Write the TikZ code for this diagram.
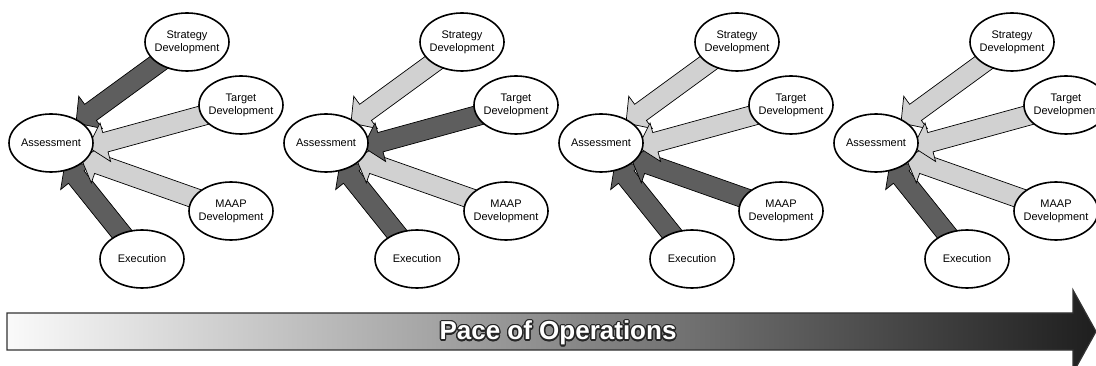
\documentclass[tikz,border=0pt]{standalone}
\usepackage{fontspec}
\setmainfont{Liberation Sans}
\usepackage{tikz}
\usetikzlibrary{shapes.geometric}
\usetikzlibrary{calc}
\usepackage{contour}
\contourlength{1.3pt}

% block arrow: style, source, tip
\newcommand{\flow}[3]{%
  \draw[#1, line width=0.7pt, line join=miter] let \p1=($(#2)-(#3)$), \n1={atan2(\y1,\x1)}, \n2={veclen(\x1,\y1)} in
    [shift={(#3)}, rotate=\n1] (0,0) -- (18,20) -- (18,10) -- (\n2,10) -- (\n2,-10) -- (18,-10) -- (18,-20) -- cycle;}

\begin{document}
\begin{tikzpicture}[x=1pt, y=-1pt, font=\fontsize{11}{13}\selectfont,
    stage/.style={draw, ellipse, line width=1.6pt, fill=white, minimum width=84pt, minimum height=58pt, inner sep=-10pt, align=center},
    dark/.style={fill=black!63},
    light/.style={fill=black!18}]
    \useasboundingbox (0,0) rectangle (1096,366);

    \foreach \i/\cs/\ct/\cm in {0/dark/light/light, 1/light/dark/light, 2/light/light/dark, 3/light/light/light} {
    \begin{scope}[xshift={\i*275}]
        \coordinate (a\i) at (51,143);
        \coordinate (s\i) at (187,42);
        \coordinate (t\i) at (241,105);
        \coordinate (m\i) at (231,211);
        \coordinate (e\i) at (142,259);
        \coordinate (sa\i) at (76,123);
        \coordinate (ta\i) at (88,147);
        \coordinate (ma\i) at (81,158);
        \coordinate (ea\i) at (65,163);
        \flow{\cs}{s\i}{sa\i}
        \flow{dark}{e\i}{ea\i}
        \flow{\cm}{m\i}{ma\i}
        \flow{\ct}{t\i}{ta\i}
        \node[stage] (assess\i) at (a\i) {Assessment};
        \node[stage] (strat\i) at (s\i) {Strategy\\Development};
        \node[stage] (target\i) at (t\i) {Target\\Development};
        \node[stage] (maap\i) at (m\i) {MAAP\\Development};
        \node[stage] (exec\i) at (e\i) {Execution};
    \end{scope}
    }

    % pace arrow
    \draw[draw=black!80, line width=1.2pt, left color=black!2, right color=black!88]
        (7,313) -- (1073,313) -- (1073,290) -- (1096,331.5) -- (1073,373) -- (1073,350) -- (7,350) -- cycle;
    \node[anchor=base, text=white, font=\bfseries\fontsize{26}{30}\selectfont] (pace) at (558,340) {\contour{black!85}{Pace of Operations}};
\end{tikzpicture}
\end{document}
